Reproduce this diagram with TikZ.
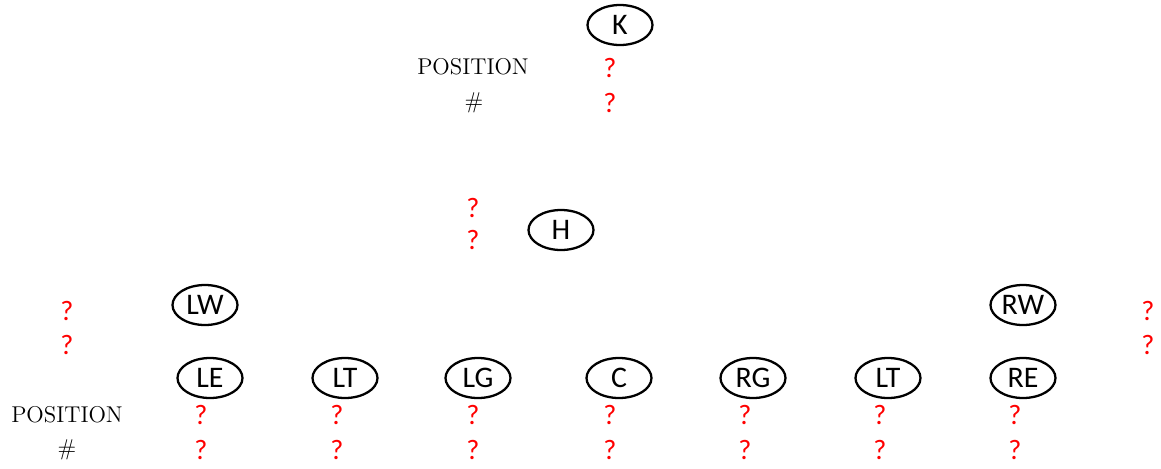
\documentclass[tikz,border=0pt]{standalone}
\usepackage{fontspec}
\newfontfamily\plfont{Carlito}
\newfontfamily\labelfont{Latin Modern Roman}
\usetikzlibrary{shapes.geometric}
\tikzset{
  player/.style={ellipse,draw,line width=1.3pt,minimum width=1.3cm,minimum height=0.8cm,inner sep=0pt,font=\plfont\fontsize{17}{20}\selectfont},
  unknown/.style={text=red,inner sep=0pt,font=\plfont\fontsize{16}{19}\selectfont},
  rowlabel/.style={inner sep=0pt,font=\labelfont\fontsize{13}{15}\selectfont},
}
\begin{document}
\begin{tikzpicture}[x=0.02cm,y=-0.02cm]
  \useasboundingbox (0,0) rectangle (1161,468);
  % Kicker
  \node[player] (K) at (620,25) {K};
  \node[rowlabel] (posKlabel) at (473,67) {POSITION};
  \node[rowlabel] (numKlabel) at (474,103) {\#};
  \node[unknown] (posK) at (610,68) {?};
  \node[unknown] (numK) at (610,103) {?};
  % Holder
  \node[player] (H) at (561,230) {H};
  \node[unknown] (posH) at (473,208) {?};
  \node[unknown] (numH) at (473,240) {?};
  % Wings
  \node[player] (LW) at (205,305) {LW};
  \node[player] (RW) at (1023,305) {RW};
  \node[unknown] (posLW) at (67,311) {?};
  \node[unknown] (numLW) at (67,345) {?};
  \node[unknown] (posRW) at (1148,311) {?};
  \node[unknown] (numRW) at (1148,345) {?};
  % Line
  \foreach \name/\lbl/\x/\q in {LE/LE/210/201, LT/LT/345/337, LG/LG/478/473, C/C/619/610,
                                RG/RG/753/745, RT/LT/888/880, RE/RE/1023/1015} {
    \node[player] (\name) at (\x,378) {\lbl};
    \node[unknown] (pos\name) at (\q,415) {?};
    \node[unknown] (num\name) at (\q,450) {?};
  }
  \node[rowlabel] (poslabel) at (67,415) {POSITION};
  \node[rowlabel] (numlabel) at (67,450) {\#};
\end{tikzpicture}
\end{document}
